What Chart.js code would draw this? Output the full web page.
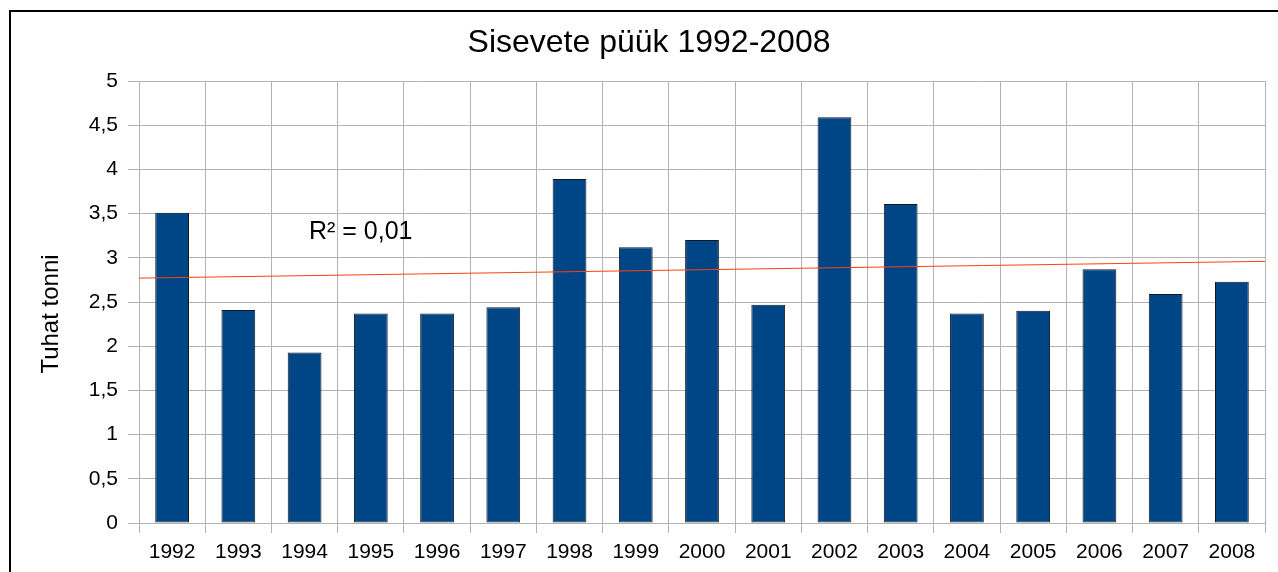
<!DOCTYPE html>
<html>
<head>
<meta charset="utf-8">
<script src="https://cdn.jsdelivr.net/npm/chart.js@4/dist/chart.umd.min.js"></script>
<style>
  html, body { margin: 0; padding: 0; background: #fff; overflow: hidden; }
  #frame { position: absolute; left: 9px; top: 10px; width: 1280px; height: 562px;
           border-left: 2px solid #000; border-top: 2px solid #000; }
  canvas { display: block; }
</style>
</head>
<body>
<div id="frame"><canvas id="c" width="1280" height="560"></canvas></div>
<script>
// aastad
var aastad = ['1992','1993','1994','1995','1996','1997','1998','1999','2000',
              '2001','2002','2003','2004','2005','2006','2007','2008'];
// püük, tuhat tonni
var pyuk = [3.51, 2.41, 1.93, 2.37, 2.37, 2.44, 3.89, 3.12, 3.20,
            2.47, 4.59, 3.61, 2.37, 2.40, 2.87, 2.59, 2.73];
// trendijoon (algus ja lõpp, loetud pildilt)
var trendX = [-0.5, 16.5];
var trendY = [2.77, 2.96];
var yTicks = [0, 0.5, 1, 1.5, 2, 2.5, 3, 3.5, 4, 4.5, 5];

var pealkiri = 'Sisevete püük 1992-2008';
var yPealkiri = 'Tuhat tonni';
var r2Tekst = 'R² = 0,01';

var trendPunktid = trendX.map(function (x, i) { return { x: x, y: trendY[i] }; });

// tekstid mis ei ole Chart.js enda omad
var tekstid = {
    id: 'tekstid',
    afterDraw: function (chart) {
        var ctx = chart.ctx;
        ctx.save();
        ctx.fillStyle = '#000';
        ctx.font = '32px "Liberation Sans", Arial, sans-serif';
        ctx.textAlign = 'center';
        ctx.textBaseline = 'middle';
        ctx.fillText(pealkiri, 638, 31);

        ctx.font = '24px "Liberation Sans", Arial, sans-serif';
        ctx.translate(40, 302);
        ctx.rotate(-Math.PI / 2);
        ctx.fillText(yPealkiri, 0, 0);
        ctx.restore();

        ctx.save();
        ctx.fillStyle = '#000';
        ctx.font = '25px "Liberation Sans", Arial, sans-serif';
        ctx.textAlign = 'left';
        ctx.textBaseline = 'middle';
        ctx.fillText(r2Tekst, 298, 220);
        ctx.restore();
    }
};

var chart = new Chart(document.getElementById('c').getContext('2d'), {
    type: 'bar',
    data: {
        labels: aastad,
        datasets: [{
            label: 'Püük',
            data: pyuk,
            backgroundColor: '#004586',
            borderColor: '#101820',
            borderWidth: 1,
            borderSkipped: false,
            grouped: false,
            categoryPercentage: 1,
            barPercentage: 0.51,
            order: 2
        }, {
            type: 'line',
            label: 'Trend',
            data: trendPunktid,
            xAxisID: 'xt',
            borderColor: '#ff420e',
            borderWidth: 1,
            pointRadius: 0,
            fill: false,
            order: 1
        }]
    },
    plugins: [tekstid],
    options: {
        responsive: false,
        animation: false,
        layout: { padding: { left: 0, top: 69, right: 26, bottom: 0 } },
        plugins: {
            legend: { display: false },
            title: { display: false },
            tooltip: { enabled: false }
        },
        scales: {
            x: {
                grid: { color: '#b3b3b3', tickLength: 10, offset: true },
                border: { color: '#b3b3b3' },
                ticks: {
                    color: '#000',
                    padding: 7,
                    maxRotation: 0,
                    autoSkip: false,
                    font: { size: 21, family: '"Liberation Sans", Arial, sans-serif' }
                },
                afterFit: function (scale) { scale.height = 49; }
            },
            xt: {
                type: 'linear',
                display: false,
                offset: false,
                grid: { offset: false },
                min: trendX[0],
                max: trendX[1]
            },
            y: {
                min: 0,
                max: 5,
                grid: { color: '#b3b3b3', tickLength: 11 },
                border: { color: '#b3b3b3' },
                afterBuildTicks: function (scale) {
                    scale.ticks = yTicks.map(function (v) { return { value: v }; });
                },
                ticks: {
                    color: '#000',
                    padding: 10,
                    font: { size: 21, family: '"Liberation Sans", Arial, sans-serif' },
                    callback: function (v) { return String(v).replace('.', ','); }
                },
                afterFit: function (scale) { scale.width = 128; }
            }
        }
    }
});
</script>
</body>
</html>
